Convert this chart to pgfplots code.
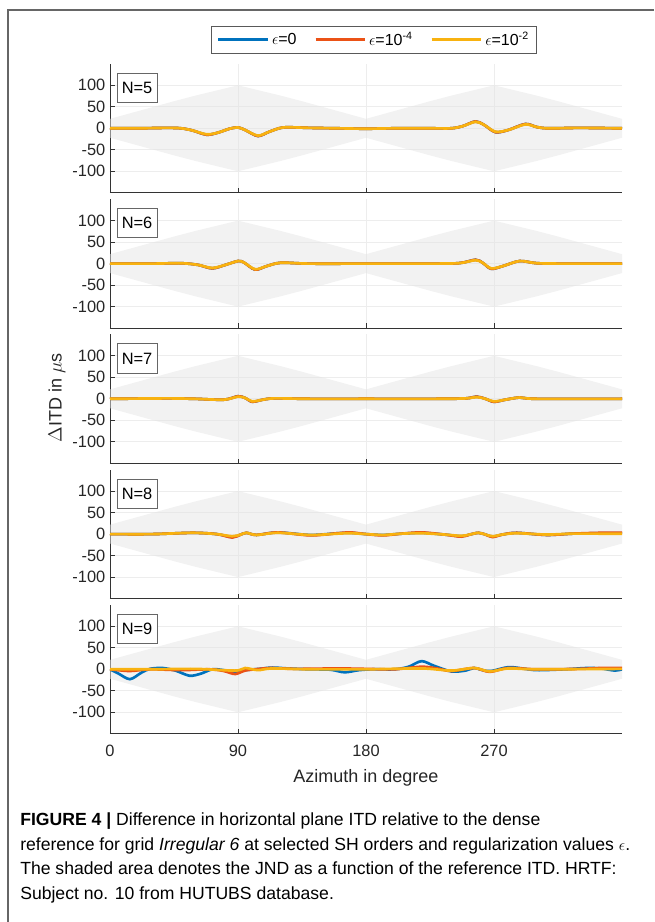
\documentclass[border=0pt]{standalone}
\usepackage{fontspec}
\setmainfont{Liberation Sans}
\usepackage{pgfplots}
\pgfplotsset{compat=1.18}

\definecolor{mblue}{RGB}{0,114,189}
\definecolor{mred}{RGB}{235,82,22}
\definecolor{myellow}{RGB}{248,178,16}

\pgfplotsset{
  panel/.style={
    scale only axis, width=384pt, height=96.75pt, anchor=south west,
    xmin=0, xmax=360, ymin=-150, ymax=150,
    xtick={0,90,180,270}, ytick={-100,-50,0,50,100},
    axis x line*=bottom, axis y line*=left,
    axis line style={-, black!80, line width=0.6pt},
    tick align=inside, major tick length=3.5pt,
    tick style={black!80, line width=0.6pt},
    grid=major, major grid style={black!7, line width=0.6pt},
    tick label style={font=\fontsize{12.3}{14}\selectfont, text=black!85},
    xticklabel style={yshift=-5pt},
    /pgf/number format/assume math mode=true,
  },
  band/.style={draw=none, fill=black!10, fill opacity=0.5, forget plot},
  c0/.style={mblue, line width=2pt, smooth, tension=0.5, mark=none},
  c1/.style={mred, line width=2pt, smooth, tension=0.5, mark=none},
  c2/.style={myellow, line width=2pt, smooth, tension=0.5, mark=none},
}

% JND band (same reference ITD in every panel)
\newcommand{\jnd}{%
  \addplot[band] coordinates {
    (0,22) (45,63) (60,76) (75,88) (90,100) (105,88) (120,76) (135,63)
    (180,22) (225,63) (240,76) (255,88) (270,100) (285,88) (300,76) (315,63)
    (360,22) (360,-22) (315,-63) (300,-76) (285,-88) (270,-100) (255,-88)
    (240,-76) (225,-63) (180,-22) (135,-63) (120,-76) (105,-88) (90,-100)
    (75,-88) (60,-76) (45,-63) (0,-22)
  } -- cycle;}

\newcommand{\nbox}[1]{\node[draw=black!60, fill=white, line width=0.6pt,
  anchor=north west, minimum width=30pt, minimum height=22pt, inner sep=0pt,
  font=\fontsize{12.3}{14}\selectfont] at (rel axis cs:0.013,0.93) {#1};}

\begin{document}
\begin{tikzpicture}
\path[use as bounding box] (0,0) rectangle (490.5pt,691.5pt);
\draw[black!60, line width=0.8pt] (6pt,0pt) -- (6pt,684pt) -- (490.5pt,684pt);

% N=5
\begin{axis}[panel, at={(82.5pt,546.9pt)}, xticklabels={},
  legend style={at={(0.516,1.186)}, anchor=center, legend columns=3,
    draw=black!65, line width=0.6pt, font=\fontsize{12}{14}\selectfont,
    inner xsep=4pt, inner ysep=2.5pt,
    /tikz/every even column/.append style={column sep=11pt}},
  legend cell align=left,
  legend image code/.code={\draw[#1, line width=2.4pt, sharp plot] (0pt,0pt) -- (37pt,0pt);}]
\jnd
\addplot[c0] coordinates {(0,0)(20,0)(40,1)(50,0)(58,-5)(68,-15)(76,-10)(84,-1)(90,2)(95,-4)(104,-18)(112,-8)(122,2)(140,1)(160,0)(180,-1)(200,0)(225,0)(240,0)(248,5)(257,16)(263,8)(271,-9)(280,-4)(292,10)(300,3)(308,0)(330,1)(360,0)};
\addplot[c1] coordinates {(0,0)(20,0)(40,1)(50,0)(58,-5)(68,-15)(76,-10)(84,-1)(90,2)(95,-4)(104,-18)(112,-8)(122,2)(140,1)(160,0)(180,-1)(200,0)(225,0)(240,0)(248,5)(257,16)(263,8)(271,-9)(280,-4)(292,10)(300,3)(308,0)(330,1)(360,0)};
\addplot[c2] coordinates {(0,0)(20,0)(40,1)(50,0)(58,-5)(68,-14)(76,-10)(84,-1)(90,2)(95,-4)(104,-17)(112,-8)(122,2)(140,1)(160,0)(180,-1)(200,0)(225,0)(240,0)(248,5)(257,15)(263,8)(271,-8)(280,-4)(292,9)(300,3)(308,0)(330,1)(360,0)};
\legend{$\epsilon$=0, $\epsilon$=10\textsuperscript{-4}, $\epsilon$=10\textsuperscript{-2}}
\nbox{N=5}
\end{axis}

% N=6
\begin{axis}[panel, at={(82.5pt,445.4pt)}, xticklabels={}]
\jnd
\addplot[c0] coordinates {(0,0)(30,0)(50,1)(62,-3)(72,-11)(82,-2)(90,6)(94,3)(102,-14)(110,-6)(120,2)(140,0)(180,0)(220,0)(245,1)(257,9)(262,2)(268,-12)(276,-6)(288,6)(300,1)(320,0)(360,0)};
\addplot[c1] coordinates {(0,0)(30,0)(50,1)(62,-3)(72,-11)(82,-2)(90,6)(94,3)(102,-14)(110,-6)(120,2)(140,0)(180,0)(220,0)(245,1)(257,9)(262,2)(268,-12)(276,-6)(288,6)(300,1)(320,0)(360,0)};
\addplot[c2] coordinates {(0,0)(30,0)(50,1)(62,-3)(72,-10)(82,-2)(90,6)(94,3)(102,-13)(110,-6)(120,2)(140,0)(180,0)(220,0)(245,1)(257,8)(262,2)(268,-11)(276,-6)(288,6)(300,1)(320,0)(360,0)};
\nbox{N=6}
\end{axis}

% N=7
\begin{axis}[panel, at={(82.5pt,344.0pt)}, xticklabels={}]
\jnd
\addplot[c0] coordinates {(0,0)(40,1)(60,0)(80,-2)(90,6)(95,2)(100,-7)(106,-3)(115,1)(140,0)(180,0)(230,0)(250,1)(258,5)(264,0)(270,-7)(278,-2)(288,3)(300,0)(360,0)};
\addplot[c1] coordinates {(0,0)(40,1)(60,0)(80,-2)(90,6)(95,2)(100,-7)(106,-3)(115,1)(140,0)(180,0)(230,0)(250,1)(258,5)(264,0)(270,-7)(278,-2)(288,3)(300,0)(360,0)};
\addplot[c2] coordinates {(0,0)(40,1)(60,0)(80,-2)(90,5)(95,2)(100,-6)(106,-3)(115,1)(140,0)(180,0)(230,0)(250,1)(258,4)(264,0)(270,-6)(278,-2)(288,3)(300,0)(360,0)};
\nbox{N=7}
\end{axis}

% N=8
\begin{axis}[panel, at={(82.5pt,242.55pt)}, xticklabels={}]
\jnd
\addplot[c0] coordinates {(0,0)(30,0)(58,3)(75,0)(86,-7)(92,-1)(96,3)(103,-2)(118,4)(141,-2)(160,2)(169,3)(180,0)(192,-2)(205,1)(219,3)(235,-1)(247,-5)(253,-1)(259,3)(264,-1)(269,-6)(276,-1)(286,3)(307,-2)(325,1)(344,2)(360,2)};
\addplot[c1] coordinates {(0,0)(30,0)(58,3)(75,0)(86,-8)(92,-1)(96,3)(103,-2)(118,4)(141,-3)(160,2)(169,4)(180,0)(192,-3)(205,1)(219,4)(235,-1)(247,-6)(253,-1)(259,3)(264,-1)(269,-7)(276,-1)(286,3)(307,-2)(325,1)(344,3)(360,3)};
\addplot[c2] coordinates {(0,0)(30,0)(58,3)(75,0)(86,-5)(92,-1)(96,3)(103,-2)(118,3)(141,-2)(160,1)(169,2)(180,0)(192,-2)(205,1)(219,2)(235,-1)(247,-4)(253,-1)(259,3)(264,-1)(269,-5)(276,-1)(286,2)(307,-1)(325,1)(344,1)(360,1)};
\nbox{N=8}
\end{axis}

% N=9
\begin{axis}[panel, at={(82.5pt,141.15pt)}]
\jnd
\addplot[c0] coordinates {(0,0)(6,-10)(14,-23)(22,-8)(28,1)(37,3)(46,-3)(56,-15)(64,-10)(72,0)(80,-2)(88,-8)(95,-2)(105,1)(114,4)(125,2)(140,0)(155,-1)(165,-7)(175,-2)(185,0)(200,0)(210,6)(219,19)(228,8)(240,-5)(250,-3)(256,3)(262,-2)(268,-4)(280,5)(290,2)(300,-2)(320,0)(335,3)(345,2)(355,-3)(360,0)};
\addplot[c1] coordinates {(0,0)(14,-4)(28,0)(50,-2)(70,0)(80,-4)(88,-11)(95,-3)(105,1)(114,3)(130,1)(160,2)(180,1)(200,0)(219,6)(230,2)(240,-4)(256,3)(267,-6)(280,3)(300,0)(330,1)(345,3)(360,3)};
\addplot[c2] coordinates {(0,0)(30,0)(60,1)(88,-3)(95,3)(104,-2)(114,2)(140,0)(180,0)(219,2)(240,-3)(256,3)(267,-5)(280,2)(300,0)(360,1)};
\nbox{N=9}
\end{axis}

\node[rotate=90, font=\fontsize{13.5}{15}\selectfont, text=black!85] at (42.75pt,393pt) {$\Delta$ITD in $\mu$s};
\node[font=\fontsize{13.5}{15}\selectfont, text=black!85] at (274.5pt,108pt) {Azimuth in degree};
\node[anchor=north west, align=left, inner sep=0pt, font=\fontsize{13.2}{18.4}\selectfont] at (15pt,82pt)
 {\textbf{FIGURE 4 |} Difference in horizontal plane ITD relative to the dense\\
  reference for grid \textit{Irregular 6} at selected SH orders and regularization values $\epsilon$.\\
  The shaded area denotes the JND as a function of the reference ITD. HRTF:\\
  Subject no. 10 from HUTUBS database.};
\end{tikzpicture}
\end{document}
